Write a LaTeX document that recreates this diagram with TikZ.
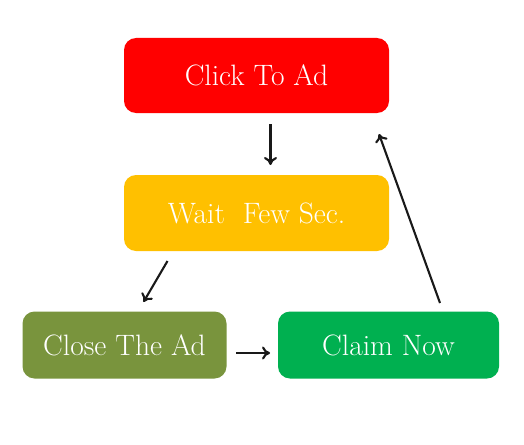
\documentclass[tikz,border=0pt]{standalone}
\usepackage{tikz}
\usetikzlibrary{arrows.meta}

\definecolor{adred}{HTML}{FF0000}
\definecolor{adgold}{HTML}{FFC000}
\definecolor{adolive}{HTML}{79943D}
\definecolor{adgreen}{HTML}{00B050}

\begin{document}
\begin{tikzpicture}[x=1pt,y=-1pt,
  stepbox/.style={rounded corners=12pt,text=white,inner sep=0pt,
    font=\fontsize{29.5}{34}\selectfont},
  flow/.style={-{To[length=8pt,width=13pt]},line width=2.1pt,black!90}]
  		\useasboundingbox[fill=white] (0,0) rectangle (524,444);
  		\node[stepbox,fill=adred,minimum width=265pt,minimum height=75pt] (click) at (256.5,75.5) {Click To Ad};
  		\node[stepbox,fill=adgold,minimum width=265pt,minimum height=76pt] (wait) at (256.5,213) {Wait\ \ Few Sec.};
  		\node[stepbox,fill=adolive,minimum width=204pt,minimum height=67pt] (close) at (124.5,345) {Close The Ad};
  		\node[stepbox,fill=adgreen,minimum width=221pt,minimum height=67pt] (claim) at (388.5,345) {Claim Now};
  		\coordinate (a1) at (270.5,124);
  		\coordinate (a2) at (270.5,165);
  		\coordinate (b1) at (167.5,261);
  		\coordinate (b2) at (143.5,302);
  		\coordinate (c1) at (236,353);
  		\coordinate (c2) at (270,353);
  		\coordinate (d1) at (440,303);
  		\coordinate (d2) at (379,134);
  		\draw[flow] (a1) -- (a2);
  		\draw[flow] (b1) -- (b2);
  		\draw[flow] (c1) -- (c2);
  		\draw[flow] (d1) -- (d2);
\end{tikzpicture}
\end{document}
